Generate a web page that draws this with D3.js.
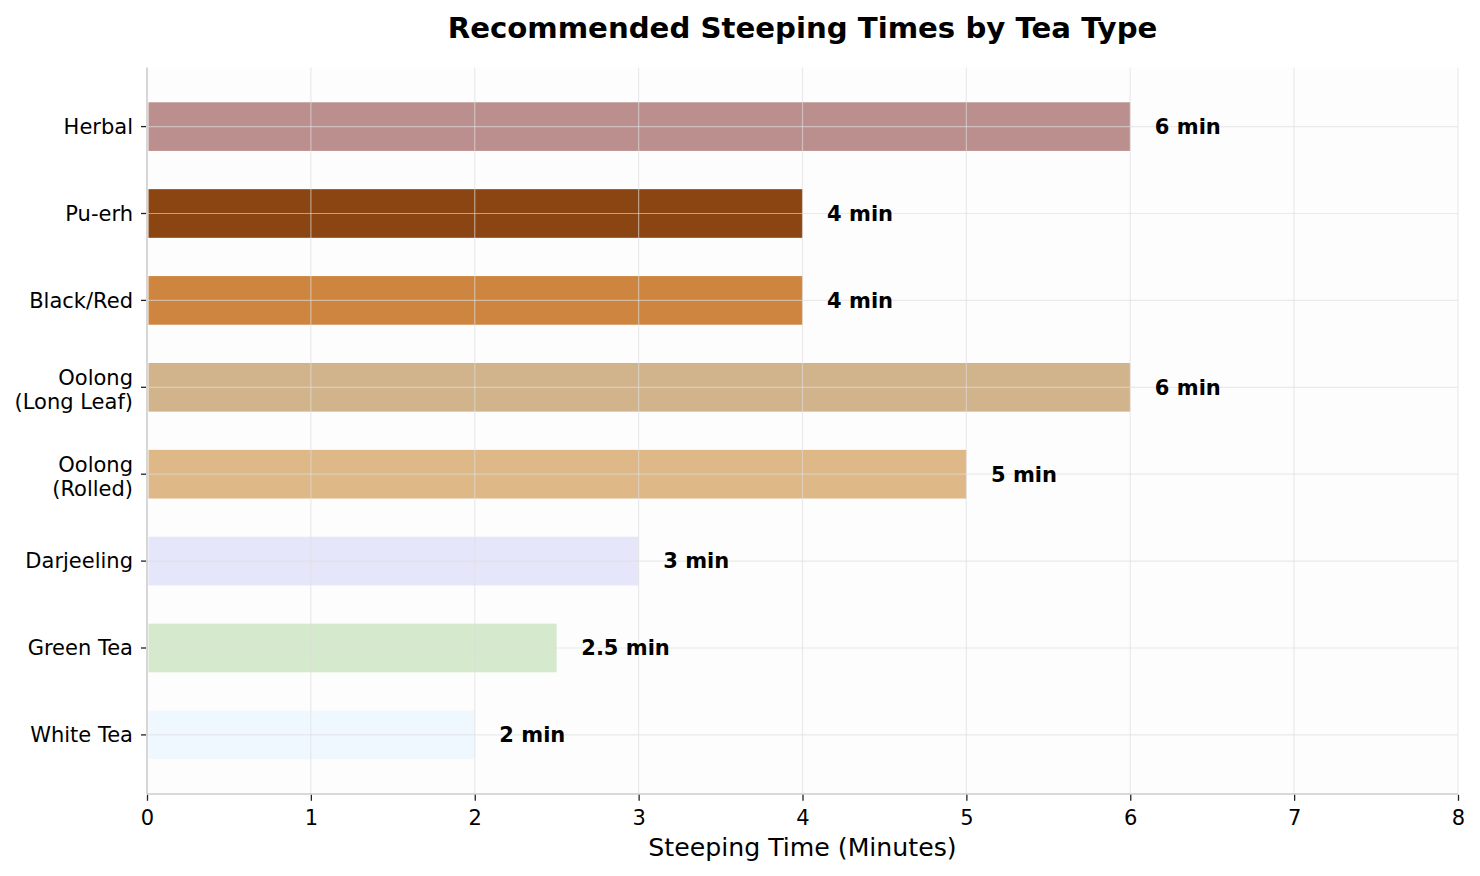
<!DOCTYPE html>
<html>
<head>
<meta charset="utf-8">
<script src="https://cdn.jsdelivr.net/npm/d3@7"></script>
<style>
  body { margin: 0; background: #ffffff; }
  svg { display: block; font-family: "DejaVu Sans", sans-serif; }
</style>
</head>
<body>
<svg id="chart" width="1480" height="876"></svg>
<script>
// Data (bottom to top)
const teaTypes = ["White Tea", "Green Tea", "Darjeeling", "Oolong\n(Rolled)", "Oolong\n(Long Leaf)", "Black/Red", "Pu-erh", "Herbal"];
const steepMinutes = [2, 2.5, 3, 5, 6, 4, 4, 6];
const barColors = ["#F0F8FF", "#D5E9CC", "#E6E6FA", "#DEB887", "#D2B48C", "#CD853F", "#8B4513", "#BC8F8F"];
const valueLabels = ["2 min", "2.5 min", "3 min", "5 min", "6 min", "4 min", "4 min", "6 min"];
const xTicks = [0, 1, 2, 3, 4, 5, 6, 7, 8];

(function () {
const svg = d3.select("#chart");
const pL = 147, pR = 1458, pT = 67.5, pB = 794;

const x = d3.scaleLinear().domain([0, 8]).range([pL, pR]);
const y = d3.scaleLinear().domain([-0.68, teaTypes.length - 1 + 0.68]).range([pB, pT]);
const barH = 0.56;

// plot background
svg.append("rect").attr("x", pL).attr("y", pT).attr("width", pR - pL).attr("height", pB - pT).attr("fill", "#fdfdfd");

// bars
svg.append("g").selectAll("rect").data(teaTypes).join("rect")
  .attr("x", x(0) + 1.5)
  .attr("y", (d, i) => y(i + barH / 2))
  .attr("width", (d, i) => x(steepMinutes[i]) - x(0) - 1.5)
  .attr("height", (d, i) => y(i - barH / 2) - y(i + barH / 2))
  .attr("fill", (d, i) => barColors[i]);

// grid on top
const grid = svg.append("g").attr("stroke", "#dedede").attr("stroke-opacity", 0.6).attr("stroke-width", 1.2);
grid.selectAll("line.v").data(xTicks.slice(1)).join("line").attr("class", "v")
  .attr("x1", d => x(d)).attr("x2", d => x(d)).attr("y1", pT).attr("y2", pB);
grid.selectAll("line.h").data(teaTypes).join("line").attr("class", "h")
  .attr("x1", pL).attr("x2", pR).attr("y1", (d, i) => y(i)).attr("y2", (d, i) => y(i));

// axes spines
svg.append("line").attr("x1", pL).attr("x2", pL).attr("y1", pT).attr("y2", pB).attr("stroke", "#cccccc").attr("stroke-width", 1.6);
svg.append("line").attr("x1", pL).attr("x2", pR).attr("y1", pB).attr("y2", pB).attr("stroke", "#cccccc").attr("stroke-width", 1.6);

// x axis ticks
const xAxis = d3.axisBottom(x).tickValues(xTicks).tickSize(6).tickPadding(9).tickFormat(d3.format("d"));
const gx = svg.append("g").attr("transform", `translate(0,${pB + 0.8})`).call(xAxis);
gx.select(".domain").remove();
gx.selectAll(".tick line").attr("stroke", "#222").attr("stroke-width", 1.3);
gx.selectAll(".tick text").attr("font-size", 21).attr("fill", "#000").attr("font-family", "DejaVu Sans");

// y ticks + labels
const gy = svg.append("g");
teaTypes.forEach((t, i) => {
  const yy = y(i);
  gy.append("line").attr("x1", pL - 6).attr("x2", pL - 1).attr("y1", yy).attr("y2", yy).attr("stroke", "#222").attr("stroke-width", 1.3);
  const lines = t.split("\n");
  const lh = 23.5;
  const shift = lines.length > 1 ? 2.5 : 0;
  const txt = gy.append("text").attr("x", pL - 14).attr("text-anchor", "end").attr("font-size", 21).attr("fill", "#000");
  lines.forEach((ln, k) => {
    txt.append("tspan").attr("x", pL - 14)
      .attr("y", yy + shift + (k - (lines.length - 1) / 2) * lh)
      .attr("dy", "0.35em").text(ln);
  });
});

// value labels
svg.append("g").selectAll("text").data(teaTypes).join("text")
  .attr("x", (d, i) => x(steepMinutes[i] + 0.15))
  .attr("y", (d, i) => y(i))
  .attr("dy", "0.35em")
  .attr("font-size", 21).attr("font-weight", "bold").attr("fill", "#000")
  .text((d, i) => valueLabels[i]);

// title
svg.append("text").attr("x", (pL + pR) / 2).attr("y", 38).attr("text-anchor", "middle")
  .attr("font-size", 29.2).attr("font-weight", "bold").text("Recommended Steeping Times by Tea Type");

// x label
svg.append("text").attr("x", (pL + pR) / 2).attr("y", 856).attr("text-anchor", "middle")
  .attr("font-size", 25.2).text("Steeping Time (Minutes)");
})();
</script>
</body>
</html>
